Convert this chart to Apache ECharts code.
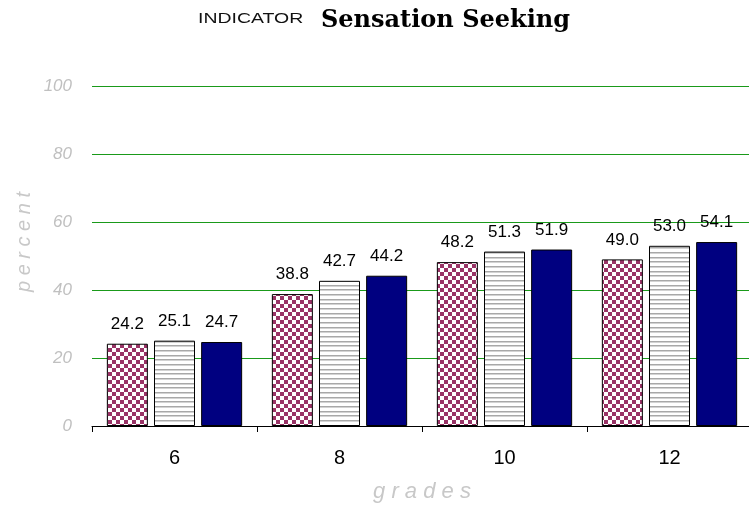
<!DOCTYPE html>
<html>
<head>
<meta charset="utf-8">
<script src="https://cdn.jsdelivr.net/npm/echarts@6/dist/echarts.min.js"></script>
<style>
  html, body { margin: 0; padding: 0; background: #ffffff; }
  #chart { width: 749px; height: 506px; }
</style>
</head>
<body>
<div id="chart"></div>
<script>
// Sensation seeking by grade, three cohorts
const grades = ['6', '8', '10', '12'];
const cohortA = [24.2, 38.8, 48.2, 49.0];
const cohortB = [25.1, 42.7, 51.3, 53.0];
const cohortC = [24.7, 44.2, 51.9, 54.1];
const yTicks = [0, 20, 40, 60, 80, 100];

// Fill patterns
function checkerPattern() {
  const c = document.createElement('canvas');
  c.width = 8; c.height = 8;
  const g = c.getContext('2d');
  g.fillStyle = '#ffffff'; g.fillRect(0, 0, 8, 8);
  g.fillStyle = '#993366';
  g.fillRect(0, 0, 4, 4);
  g.fillRect(4, 4, 4, 4);
  return { image: c, repeat: 'repeat' };
}
function stripePattern() {
  const c = document.createElement('canvas');
  c.width = 4; c.height = 14;
  const g = c.getContext('2d');
  g.fillStyle = '#ffffff'; g.fillRect(0, 0, 4, 14);
  g.fillStyle = '#a8a8a8';
  [0, 5, 9].forEach(y => g.fillRect(0, y, 4, 1.5));
  return { image: c, repeat: 'repeat' };
}

const labelStyle = {
  show: true,
  position: 'top',
  distance: 11,
  fontFamily: 'Liberation Sans, Arial, sans-serif',
  fontSize: 17,
  color: '#000000',
  formatter: p => p.value.toFixed(1)
};

function barSeries(name, data, fill) {
  return {
    name: name,
    type: 'bar',
    data: data,
    barWidth: 41,
    barGap: '15%',
    itemStyle: { color: fill, borderColor: '#000000', borderWidth: 1 },
    label: labelStyle
  };
}

const chart = echarts.init(document.getElementById('chart'), null, { renderer: 'canvas' });
chart.setOption({
  animation: false,
  backgroundColor: '#ffffff',
  graphic: [
    {
      type: 'text', left: 198, top: 12,
      style: { text: 'INDICATOR', font: '14px "Liberation Sans", Arial, sans-serif', fill: '#111111' },
      scaleX: 1.39
    },
    {
      type: 'text', left: 321, top: 9,
      style: { text: 'Sensation Seeking', font: 'bold 24px "DejaVu Serif", serif', fill: '#000000' }
    },
    {
      type: 'text', left: 14, top: 192, rotation: Math.PI / 2,
      style: { text: 'p e r c e n t', font: 'italic 20px "Liberation Sans", Arial, sans-serif', fill: '#c8c8c8' }
    }
  ],
  grid: { left: 92, right: -3, top: 86, bottom: 80, containLabel: false, outerBoundsMode: 'none' },
  xAxis: {
    type: 'category',
    data: grades,
    name: 'g r a d e s',
    nameLocation: 'middle',
    nameGap: 55,
    nameTextStyle: { fontFamily: 'Liberation Sans, Arial, sans-serif', fontStyle: 'italic', fontSize: 22, color: '#c8c8c8' },
    axisLine: { lineStyle: { color: '#000000', width: 1 } },
    axisTick: { show: true, length: 6, alignWithLabel: false, lineStyle: { color: '#000000' } },
    axisLabel: { fontFamily: 'Liberation Sans, Arial, sans-serif', fontSize: 20, color: '#000000', margin: 22 }
  },
  yAxis: {
    type: 'value',
    min: yTicks[0],
    max: yTicks[yTicks.length - 1],
    interval: yTicks[1] - yTicks[0],
    axisLine: { show: false },
    axisTick: { show: false },
    axisLabel: { fontFamily: 'Liberation Sans, Arial, sans-serif', fontStyle: 'italic', fontSize: 17, color: '#c0c0c0', margin: 20 },
    splitLine: { lineStyle: { color: '#1a9a1a', width: 1 } }
  },
  series: [
    barSeries('A', cohortA, checkerPattern()),
    barSeries('B', cohortB, stripePattern()),
    barSeries('C', cohortC, '#000080')
  ]
});
</script>
</body>
</html>
